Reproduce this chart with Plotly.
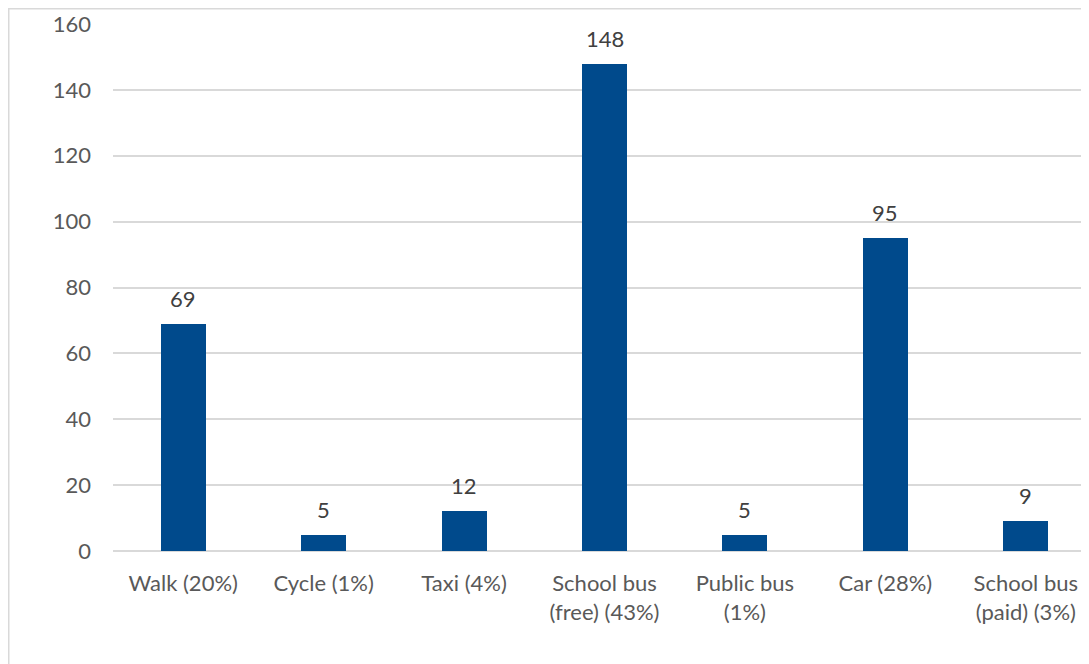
import plotly.graph_objects as go

categories = ["Walk (20%)", "Cycle (1%)", "Taxi (4%)", "School bus<br>(free) (43%)",
              "Public bus<br>(1%)", "Car (28%)", "School bus<br>(paid) (3%)"]
values = [69, 5, 12, 148, 5, 95, 9]
y_ticks = [0, 20, 40, 60, 80, 100, 120, 140, 160]

BAR = "#004A8C"
FONT = "Lato"

W, H = 1089, 664
L, R, T, B = 105, 1, 16, 121
pw, ph = W - L - R, H - T - B

fig = go.Figure()
fig.add_trace(go.Bar(x=list(range(len(categories))), y=values, marker_color=BAR,
                     marker_line_width=0, width=0.32, hoverinfo="skip"))

for i, v in enumerate(values):
    fig.add_annotation(x=i, y=v, text=str(v), showarrow=False, yanchor="bottom",
                       yshift=10, font=dict(family=FONT, size=22, color="#404040"))

# outer chart border
def px_x(p):
    return (p - L) / pw
def px_y(p):
    return (H - B - p) / ph
fig.add_shape(type="rect", xref="paper", yref="paper",
              x0=px_x(0.75), x1=px_x(W - 0.75), y0=px_y(H - 0.75), y1=px_y(0.75),
              line=dict(color="#D9D9D9", width=1.5), fillcolor="rgba(0,0,0,0)", layer="below")

fig.update_layout(
    width=W, height=H, margin=dict(l=L, r=R, t=T, b=B, autoexpand=False),
    paper_bgcolor="white", plot_bgcolor="white", showlegend=False,
    bargap=0,
    xaxis=dict(range=[-0.5, 6.5], tickmode="array",
               tickvals=list(range(len(categories))), ticktext=categories,
               showgrid=False, zeroline=False, showline=False, ticks="",
               ticklabelstandoff=17,
               tickfont=dict(family=FONT, size=22, color="#595959")),
    yaxis=dict(range=[0, 160], tickmode="array", tickvals=y_ticks,
               showgrid=True, gridcolor="#D9D9D9", gridwidth=1.5,
               zeroline=True, zerolinecolor="#D9D9D9", zerolinewidth=1.5,
               showline=False, ticks="", ticklabelstandoff=21,
               tickfont=dict(family=FONT, size=22, color="#595959")),
)

fig.write_html("out.html")
